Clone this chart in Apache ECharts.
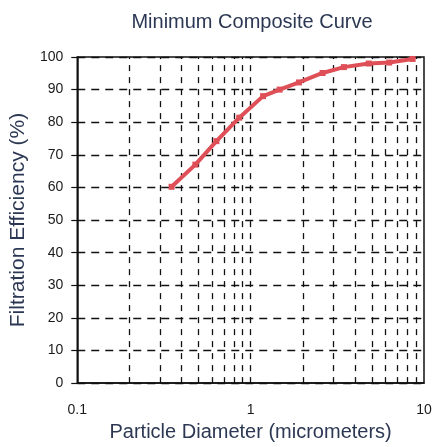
<!DOCTYPE html>
<html>
<head>
<meta charset="utf-8">
<script src="https://cdn.jsdelivr.net/npm/echarts@6/dist/echarts.min.js"></script>
<style>
  html, body { margin: 0; padding: 0; background: #fff; }
  #chart { width: 435px; height: 447px; }
</style>
</head>
<body>
<div id="chart"></div>
<script>
// particle diameter (micrometers) vs filtration efficiency (%)
const diameters = [0.35, 0.48, 0.635, 0.86, 1.18, 1.47, 1.9, 2.6, 3.45, 4.8, 6.3, 8.6];
const efficiency = [60.2, 67, 74.2, 81.4, 88, 90, 92.2, 95.1, 96.9, 98, 98.3, 99.4];
// vertical grid lines on the log axis
const xGridLines = [0.2, 0.3, 0.4, 0.5, 0.6, 0.7, 0.8, 0.9, 1, 2, 3, 4, 5, 6, 7, 8, 9];
const xTickLabels = [0.1, 1, 10];

const textColor = '#2c3853';
const chart = echarts.init(document.getElementById('chart'));
chart.setOption({
  animation: false,
  backgroundColor: '#fff',
  title: {
    text: 'Minimum Composite Curve',
    left: 247, top: 7, textAlign: 'center',
    textStyle: { color: textColor, fontFamily: 'Liberation Sans', fontSize: 20, fontWeight: 'normal' }
  },
  grid: { left: 71, right: 11, top: 57, bottom: 60, show: true, borderColor: '#111', borderWidth: 1.5 },
  xAxis: {
    type: 'log', logBase: 10, min: 0.1, max: 10,
    name: 'Particle Diameter (micrometers)', nameLocation: 'middle', nameGap: 36,
    nameTextStyle: { color: textColor, fontFamily: 'Liberation Sans', fontSize: 20 },
    axisLine: { lineStyle: { color: '#111', width: 1.5 } },
    axisTick: { show: false },
    axisLabel: {
      color: '#1a1a1a', fontFamily: 'Liberation Sans', fontSize: 14, margin: 20,
      formatter: v => (xTickLabels.includes(+v) ? String(+v) : '')
    },
    splitLine: { show: false }
  },
  yAxis: {
    type: 'value', min: 0, max: 100, interval: 10,
    name: 'Filtration Efficiency (%)', nameLocation: 'middle', nameGap: 42,
    nameTextStyle: { color: textColor, fontFamily: 'Liberation Sans', fontSize: 21 },
    axisLine: { lineStyle: { color: '#111', width: 1.5 } },
    axisTick: { length: 6, lineStyle: { color: '#111', width: 1.2 } },
    axisLabel: { color: '#1a1a1a', fontFamily: 'Liberation Sans', fontSize: 14, margin: 14 },
    splitLine: { lineStyle: { color: '#111', width: 1.3, type: [8, 6] } }
  },
  series: [
    {
      type: 'line', z: 1, silent: true,
      data: diameters.map((d, i) => [d, efficiency[i]]),
      symbol: 'none', lineStyle: { opacity: 0 },
      markLine: {
        silent: true, symbol: 'none', label: { show: false },
        lineStyle: { color: '#111', width: 1.3, type: [6, 6] },
        data: xGridLines.map(v => ({ xAxis: v }))
      }
    },
    {
      type: 'line', z: 5,
      data: diameters.map((d, i) => [d, efficiency[i]]),
      symbol: 'rect', symbolSize: 6,
      itemStyle: { color: '#df4f57' },
      lineStyle: { color: '#df4f57', width: 4 }
    }
  ]
});
</script>
</body>
</html>
